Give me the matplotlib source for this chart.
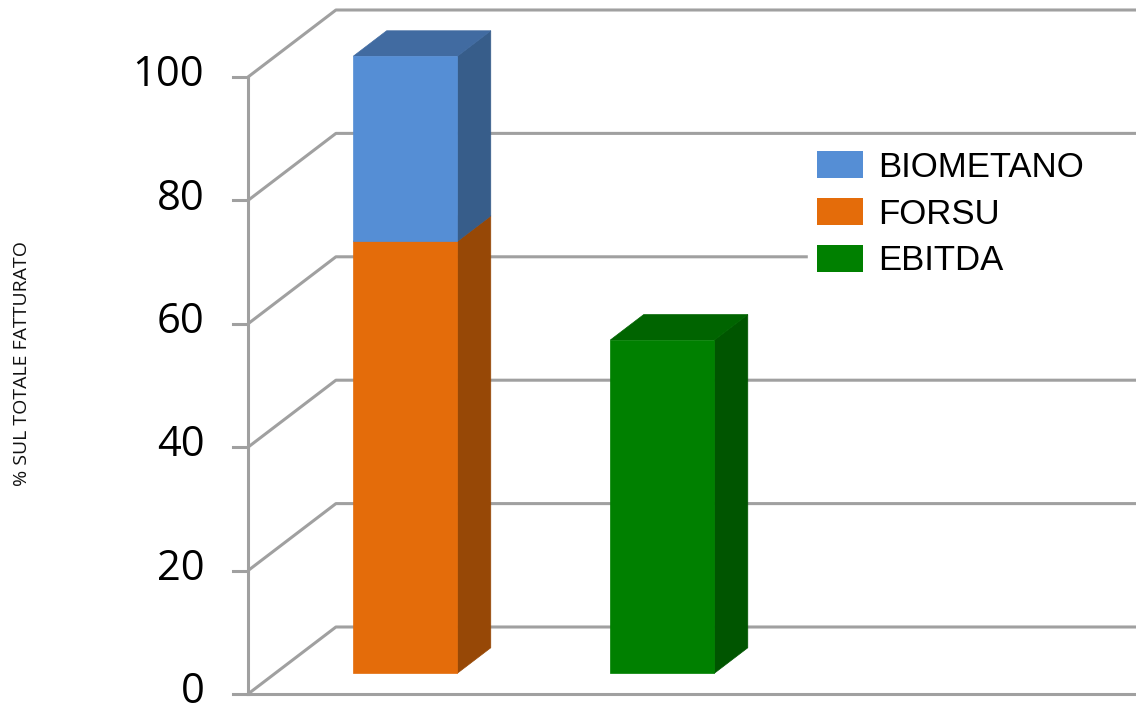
import matplotlib
matplotlib.use("Agg")
import matplotlib.pyplot as plt
from matplotlib.patches import Polygon, Patch

# data
categories = ["FATTURATO", "EBITDA"]
series = ["BIOMETANO", "FORSU", "EBITDA"]
forsu = [70, 0]
biometano = [30, 0]
ebitda = [0, 54]
yticks = [0, 20, 40, 60, 80, 100]
ylabel = "% SUL TOTALE FATTURATO"

# colours: front, top, side
col_blue = ("#558ed5", "#416ba1", "#375d8a")
col_orange = ("#e46c0a", "#b4560a", "#974806")
col_green = ("#008000", "#006400", "#005500")
grid_col = "#a0a0a0"

# oblique projection of the 3d box (depth d in 0..1)
DX, DY = 0.342, 10.86
BAR_W = 0.405
D0, D1 = 0.31, 0.69
XA = -0.506          # front left edge of the floor / value axis
XR = 4.0             # walls run off the right side


def proj(x, v, d):
    return x + d * DX, v + d * DY


fig = plt.figure(figsize=(11.36, 7.12), dpi=100)
ax = fig.add_axes([0, 0, 1, 1])
ax.set_xlim(-1.471, 2.949)
ax.set_ylim(-2.917, 112.48)
ax.axis("off")

# walls / gridlines
for v in yticks:
    p0 = proj(XA, v, 0)
    p1 = proj(XA, v, 1)
    p2 = proj(XR, v, 1)
    ax.plot([p0[0], p1[0], p2[0]], [p0[1], p1[1], p2[1]], color=grid_col, lw=2.2,
            solid_capstyle="butt", zorder=1)
    ax.plot([XA - 0.058, XA], [v, v], color=grid_col, lw=2.2, zorder=1)
    ax.text(XA - 0.17, v + 0.3, str(v), ha="right", va="center", fontsize=30,
            family="Open Sans", color="#000000")
ax.plot([XA, XR], [0, 0], color=grid_col, lw=2.2, zorder=1)
ax.plot([XA, XA], [0, yticks[-1]], color=grid_col, lw=2.2, zorder=1)


def bar3d(i, bottom, height, cols):
    if height <= 0:
        return
    x0, x1 = i - BAR_W / 2, i + BAR_W / 2
    top = bottom + height
    front = [proj(x0, bottom, D0), proj(x1, bottom, D0), proj(x1, top, D0), proj(x0, top, D0)]
    side = [proj(x1, bottom, D0), proj(x1, bottom, D1), proj(x1, top, D1), proj(x1, top, D0)]
    lid = [proj(x0, top, D0), proj(x1, top, D0), proj(x1, top, D1), proj(x0, top, D1)]
    for pts, c in [(side, cols[2]), (lid, cols[1]), (front, cols[0])]:
        ax.add_patch(Polygon(pts, closed=True, facecolor=c, edgecolor=c, lw=0.5, zorder=3))


for i in range(len(categories)):
    bar3d(i, 0, forsu[i], col_orange)
    bar3d(i, forsu[i], biometano[i], col_blue)
    bar3d(i, 0, ebitda[i], col_green)

ax.text(22 / 1136, 1 - 363 / 712, ylabel, transform=ax.transAxes, rotation=90,
        ha="center", va="center", fontsize=14, family="Open Sans", color="#111111")

handles = [Patch(facecolor=col_blue[0]), Patch(facecolor=col_orange[0]), Patch(facecolor=col_green[0])]
leg = ax.legend(handles, series, loc="upper left", mode="expand",
                bbox_to_anchor=(808 / 1136, 1 - 142 / 712, 1 - 808 / 1136, 0.0),
                bbox_transform=fig.transFigure,
                prop={"family": "Liberation Sans", "size": 25}, frameon=True,
                fancybox=False, framealpha=1, borderpad=0.25, handlelength=1.33,
                handleheight=0.84, handletextpad=0.45, labelspacing=0.4, borderaxespad=0)
leg.get_frame().set_facecolor("white")
leg.get_frame().set_edgecolor("white")
leg.set_zorder(5)

fig.savefig("out.png", dpi=100)
